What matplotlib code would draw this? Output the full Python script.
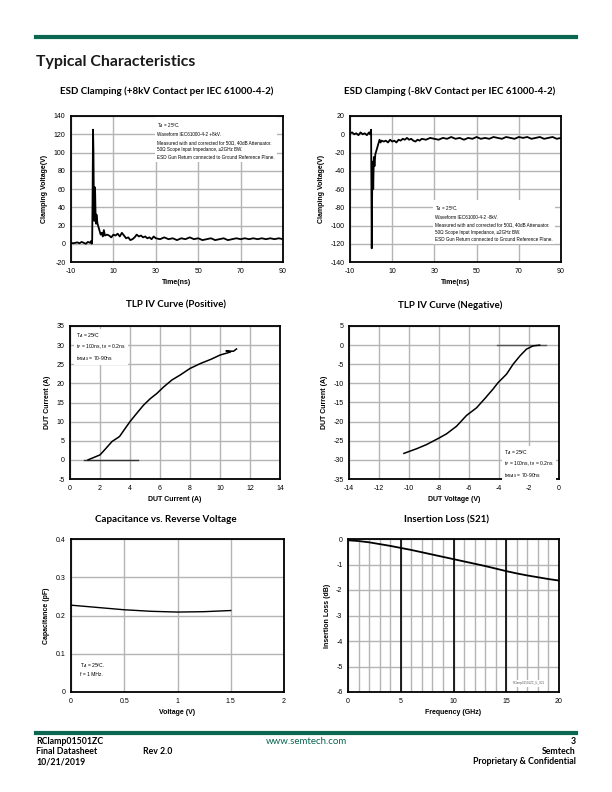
import matplotlib
matplotlib.use("Agg")
import matplotlib.pyplot as plt

plt.rcParams["axes.unicode_minus"] = False

# ESD clamping, +8kV
esd_pos_t = [-10, -9, -8, -7, -6, -5, -4, -3, -2, -1, -0.5, -0.2, 0, 0.2, 0.4, 0.6, 0.8, 1.0,
             1.2, 1.4, 1.6, 1.8, 2.0, 2.5, 3, 3.5, 4, 4.5, 5, 5.5, 6, 7, 8, 9, 10, 11, 12, 13,
             14, 15, 16, 17, 18, 19, 20, 21, 22, 23, 24, 25, 26, 27, 28, 29, 30, 32, 34, 36,
             38, 40, 42, 44, 46, 48, 50, 52, 54, 56, 58, 60, 62, 64, 66, 68, 70, 72, 74, 76,
             78, 80, 82, 84, 86, 88, 90]
esd_pos_v = [1, 0.5, 1, 1.5, 0.5, 2, 1, 0, 2, 1, 3, 0, 5, 60, 125, 100, 40, 25,
             62, 55, 30, 22, 32, 22, 18, 14, 10, 12, 8, 15, 9, 10, 9, 7, 10, 9, 11, 8,
             12, 9, 6, 7, 4, 5, 7, 10, 8, 9, 7, 8, 6, 7, 5, 8, 6, 5, 7, 5,
             6, 4, 6, 5, 7, 5, 6, 4, 5, 6, 4, 5, 6, 4, 5, 6, 5, 6, 5, 6,
             5, 6, 5, 6, 5, 6, 5]

# ESD clamping, -8kV
esd_neg_t = [-10, -9, -8, -7, -6, -5, -4, -3, -2, -1, -0.5, 0, 0.3, 0.5, 0.8, 1.0, 1.3, 1.6,
             2, 2.5, 3, 3.5, 4, 4.5, 5, 6, 7, 8, 9, 10, 11, 12, 13, 14, 15, 16, 17, 18, 19,
             20, 21, 22, 23, 24, 26, 28, 30, 32, 34, 36, 38, 40, 42, 44, 46, 48, 50, 52, 54,
             56, 58, 60, 62, 64, 66, 68, 70, 72, 74, 76, 78, 80, 82, 84, 86, 88, 90]
esd_neg_v = [1, 2, 0, 1, -1, 2, 0, 1, -1, 2, 0, 5, -125, -65, -30, -60, -25, -35,
             -22, -18, -14, -10, -6, -9, -7, -8, -7, -9, -6, -8, -7, -9, -6, -7, -5, -6, -4, -6, -5,
             -7, -8, -6, -7, -5, -6, -4, -5, -6, -4, -5, -3, -5, -4, -6, -4, -5, -3, -5, -4,
             -5, -3, -4, -5, -3, -4, -5, -3, -4, -3, -5, -4, -3, -5, -4, -3, -5, -4]

# TLP IV curve, positive
tlp_pos_v = [1.2, 2.0, 2.35, 2.8, 3.3, 3.8, 4.0, 4.35, 4.9, 5.35, 5.8, 6.25, 6.8, 7.35, 8.0,
             8.7, 9.4, 10.0, 10.7, 10.4, 10.9, 11.1]
tlp_pos_i = [0, 1.3, 2.8, 4.8, 6.1, 8.9, 10.0, 11.7, 14.3, 16.0, 17.4, 19.1, 20.9, 22.2, 23.9,
             25.2, 26.3, 27.4, 28.2, 28.5, 28.4, 29.0]
tlp_pos_off_v = [0.9, 4.55]
tlp_pos_off_i = [0, 0]

# TLP IV curve, negative
tlp_neg_v = [-10.34, -9.5, -8.83, -8.05, -7.5, -6.83, -6.17, -5.5, -4.95, -4.4, -4.06, -3.5,
             -3.06, -2.6, -2.17, -1.73, -1.29]
tlp_neg_i = [-28.3, -27.1, -26.0, -24.4, -23.2, -21.2, -18.4, -16.4, -14.0, -11.5, -9.8, -7.6,
             -5.0, -2.8, -1.05, -0.2, 0]
tlp_neg_off_v = [-4.13, -0.84]
tlp_neg_off_i = [0, 0]

# capacitance vs reverse voltage
cap_v = [0, 0.25, 0.5, 0.75, 1.0, 1.25, 1.5]
cap_pf = [0.227, 0.221, 0.215, 0.211, 0.209, 0.210, 0.213]

# insertion loss
il_f = [0, 1, 2, 3, 4, 5, 6, 7, 8, 9, 10, 11, 12, 13, 14, 15, 16, 17, 18, 19, 20]
il_db = [-0.05, -0.08, -0.13, -0.2, -0.27, -0.35, -0.43, -0.52, -0.61, -0.7, -0.79, -0.88,
         -0.97, -1.06, -1.16, -1.26, -1.35, -1.43, -1.5, -1.57, -1.63]

GREEN = "#0b6652"
GRID = "#b4b4b4"
TFONT = "Lato"
AFONT = "Liberation Sans"

fig = plt.figure(figsize=(6.12, 7.92), dpi=100)


def px(x, y):
    return x / 612, 1 - y / 792


def setup(ax, xlim, ylim, xticks, yticks, xlabel, ylabel):
    ax.set_xlim(*xlim)
    ax.set_ylim(*ylim)
    ax.set_xticks(xticks)
    ax.set_yticks(yticks)
    ax.grid(True, color=GRID, linewidth=1.0)
    ax.set_axisbelow(True)
    for s in ax.spines.values():
        s.set_linewidth(1.3)
    ax.tick_params(length=0, pad=4, labelsize=5)
    for lab in ax.get_xticklabels() + ax.get_yticklabels():
        lab.set_family(AFONT)
    ax.set_xlabel(xlabel, fontsize=5, fontweight="bold", family=AFONT, labelpad=3)
    ax.set_ylabel(ylabel, fontsize=5, fontweight="bold", family=AFONT, labelpad=4)


def note(ax, x, y, lines, size=3.3, spacing=1.6):
    ax.text(x, y, "\n".join(lines), transform=ax.transAxes, fontsize=size, family=AFONT,
            va="top", ha="left", linespacing=spacing,
            bbox=dict(facecolor="white", edgecolor="none", pad=1.5), zorder=5)


# header / footer
fig.add_artist(plt.Line2D([36 / 612, 576 / 612], [1 - 37 / 792] * 2, color=GREEN, lw=3))
fig.text(*px(36, 62), "Typical Characteristics", fontsize=11.4, fontweight="bold",
         family=TFONT, va="center", ha="left", color="#1a1a1a")
fig.add_artist(plt.Line2D([36 / 612, 576 / 612], [1 - 733 / 792] * 2, color=GREEN, lw=3))
for i, t in enumerate(["RClamp01501ZC", "Final Datasheet", "10/21/2019"]):
    fig.text(*px(36, 741 + i * 10.5), t, fontsize=6.3, fontweight="bold", family=TFONT,
             va="center", ha="left")
fig.text(*px(143, 751.5), "Rev 2.0", fontsize=6.3, fontweight="bold", family=TFONT,
         va="center", ha="left")
fig.text(*px(306, 741), "www.semtech.com", fontsize=7, family=TFONT, color=GREEN,
         va="center", ha="center")
for i, t in enumerate(["3", "Semtech", "Proprietary & Confidential"]):
    fig.text(*px(576, 741 + i * 10.5), t, fontsize=6.3, fontweight="bold", family=TFONT,
             va="center", ha="right")

titles = [((167, 91), "ESD Clamping (+8kV Contact per IEC 61000-4-2)"),
          ((450, 91), "ESD Clamping (-8kV Contact per IEC 61000-4-2)"),
          ((176, 305), "TLP IV Curve (Positive)"),
          ((450, 305), "TLP IV Curve (Negative)"),
          ((166, 520), "Capacitance vs. Reverse Voltage"),
          ((447, 520), "Insertion Loss (S21)")]
for (x, y), t in titles:
    fig.text(*px(x, y), t, fontsize=7.0, fontweight="bold", family=TFONT,
             va="center", ha="center")

# ESD +
ax1 = fig.add_axes([71 / 612, 1 - 262 / 792, 212 / 612, 146 / 792])
ax1.plot(esd_pos_t, esd_pos_v, color="black", lw=1.3)
setup(ax1, (-10, 90), (-20, 140), [-10, 10, 30, 50, 70, 90], range(-20, 141, 20),
      "Time(ns)", "Clamping Voltage(V)")
note(ax1, 0.405, 0.965, ["T$_A$ = 25ºC.", "Waveform IEC61000-4-2 +8kV.",
                          "Measured with and corrected for 50Ω, 40dB Attenuator.",
                          "50Ω Scope Input Impedance, ≥2GHz BW.",
                          "ESD Gun Return connected to Ground Reference Plane."])

# ESD -
ax2 = fig.add_axes([350 / 612, 1 - 262 / 792, 211 / 612, 146 / 792])
ax2.plot(esd_neg_t, esd_neg_v, color="black", lw=1.3)
setup(ax2, (-10, 90), (-140, 20), [-10, 10, 30, 50, 70, 90], range(-140, 21, 20),
      "Time(ns)", "Clamping Voltage(V)")
note(ax2, 0.405, 0.40, ["T$_A$ = 25ºC.", "Waveform IEC61000-4-2 -8kV.",
                         "Measured with and corrected for 50Ω, 40dB Attenuator.",
                         "50Ω Scope Input Impedance, ≥2GHz BW.",
                         "ESD Gun Return connected to Ground Reference Plane."])

# TLP +
ax3 = fig.add_axes([70 / 612, 1 - 479 / 792, 210 / 612, 153 / 792])
ax3.plot(tlp_pos_off_v, tlp_pos_off_i, color="#333333", lw=1.0)
ax3.plot(tlp_pos_v, tlp_pos_i, color="black", lw=1.1)
setup(ax3, (0, 14), (-5, 35), range(0, 15, 2), range(-5, 36, 5),
      "DUT Current (A)", "DUT Current (A)")
note(ax3, 0.03, 0.965, ["T$_A$ = 25ºC", "t$_P$ = 100ns, t$_R$ = 0.2ns",
                         "t$_{MEAS}$ = 70-90ns"], size=3.6, spacing=1.4)

# TLP -
ax4 = fig.add_axes([349 / 612, 1 - 479 / 792, 210 / 612, 153 / 792])
ax4.plot(tlp_neg_off_v, tlp_neg_off_i, color="#555555", lw=1.0)
ax4.plot(tlp_neg_v, tlp_neg_i, color="black", lw=1.1)
setup(ax4, (-14, 0), (-35, 5), range(-14, 1, 2), range(-35, 6, 5),
      "DUT Voltage (V)", "DUT Current (A)")
note(ax4, 0.74, 0.2, ["T$_A$ = 25ºC", "t$_P$ = 100ns, t$_R$ = 0.2ns",
                       "t$_{MEAS}$ = 70-90ns"], size=3.6, spacing=1.4)

# capacitance
ax5 = fig.add_axes([71 / 612, 1 - 692 / 792, 213 / 612, 153 / 792])
ax5.plot(cap_v, cap_pf, color="black", lw=1.0)
setup(ax5, (0, 2), (0, 0.4), [0, 0.5, 1, 1.5, 2], [0, 0.1, 0.2, 0.3, 0.4],
      "Voltage (V)", "Capacitance (pF)")
ax5.set_xticklabels(["0", "0.5", "1", "1.5", "2"], family=AFONT)
ax5.set_yticklabels(["0", "0.1", "0.2", "0.3", "0.4"], family=AFONT)
note(ax5, 0.04, 0.2, ["T$_A$ = 25ºC.", "f = 1 MHz."], size=3.6, spacing=1.4)

# insertion loss
ax6 = fig.add_axes([348 / 612, 1 - 692 / 792, 211 / 612, 153 / 792])
ax6.plot(il_f, il_db, color="black", lw=1.3)
setup(ax6, (0, 20), (-6, 0), [0, 5, 10, 15, 20], range(-6, 1),
      "Frequency (GHz)", "Insertion Loss (dB)")
ax6.set_xticks(range(0, 21), minor=True)
ax6.tick_params(which="minor", length=0)
ax6.grid(True, which="minor", axis="x", color=GRID, linewidth=1.0)
for f in [5, 10, 15]:
    ax6.axvline(f, color="black", lw=1.2, zorder=1)
ax6.text(0.935, 0.045, "RClamp01501ZC_IL_S21", transform=ax6.transAxes, fontsize=2,
         color="#555555", ha="right", va="bottom", family=AFONT,
         bbox=dict(facecolor="white", edgecolor="none", pad=1))

fig.savefig("out.png", dpi=100)
